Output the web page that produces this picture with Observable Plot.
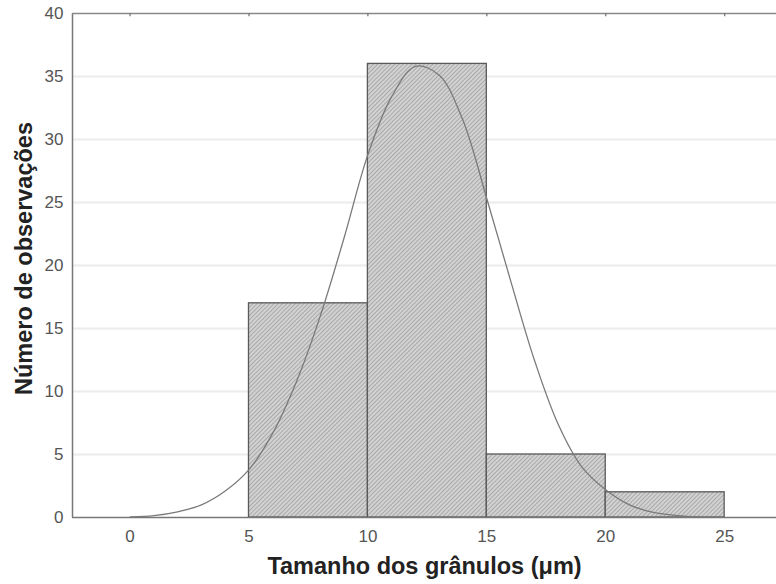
<!DOCTYPE html>
<html>
<head>
<meta charset="utf-8">
<script src="https://cdn.jsdelivr.net/npm/d3@7"></script>
<script src="https://cdn.jsdelivr.net/npm/@observablehq/plot@0.6"></script>
<style>
  html, body { margin: 0; padding: 0; background: #fff; }
  #chart { width: 776px; height: 584px; }
  svg { font-family: "Liberation Sans", Arial, sans-serif; }
</style>
</head>
<body>
<div id="chart"></div>
<script>
// Histogram bins (µm) and counts
const binStart = [5, 10, 15, 20];
const binEnd = [10, 15, 20, 25];
const counts = [17, 36, 5, 2];

// Fitted curve
const curveX = [0, 1, 2, 3, 4, 5, 6, 7, 8, 9, 10, 11, 12, 13, 14, 15, 16, 17, 18, 19, 20, 21, 22, 23, 24];
const curveY = [0.05, 0.15, 0.45, 1.0, 2.1, 3.8, 6.7, 10.8, 16.0, 22.2, 28.8, 33.4, 35.8, 35.1, 31.5, 25.3, 18.8, 12.5, 7.4, 4.0, 2.2, 1.0, 0.4, 0.15, 0.05];

// Ticks
const xTicks = [0, 5, 10, 15, 20, 25];
const yTicks = [0, 5, 10, 15, 20, 25, 30, 35, 40];

const xLabel = "Tamanho dos grânulos (μm)";
const yLabel = "Número de observações";

const bars = binStart.map((s, i) => ({x1: s, x2: binEnd[i], y: counts[i]}));
const curve = curveX.map((x, i) => ({x, y: curveY[i]}));

const xMin = -2.42, xMax = 27.18;

const plot = Plot.plot({
  width: 776,
  height: 584,
  marginLeft: 72,
  marginRight: 0,
  marginTop: 13,
  marginBottom: 67,
  style: {fontFamily: "'Liberation Sans', Arial, sans-serif", background: "#fff"},
  x: {domain: [xMin, xMax]},
  y: {domain: [0, 40]},
  marks: [
    Plot.ruleY(yTicks.filter(d => d > 0 && d < 40), {stroke: "#ebebeb", strokeWidth: 2}),
    Plot.rectY(bars, {x1: "x1", x2: "x2", y: "y", fill: "url(#hatch)", stroke: "#5a5a5a", strokeWidth: 1.3}),
    Plot.line(curve, {x: "x", y: "y", curve: "catmull-rom", stroke: "#7a7a7a", strokeWidth: 1.3}),
    Plot.ruleX([xMin], {stroke: "#777", strokeWidth: 1.5}),
    Plot.ruleY([0], {stroke: "#777", strokeWidth: 1.5}),
    Plot.ruleY([40], {stroke: "#888", strokeWidth: 1.5}),
    Plot.ruleX(xTicks, {y1: 40, y2: 39.75, stroke: "#777", strokeWidth: 1.3}),
    Plot.axisY({ticks: yTicks, tickSize: 0, tickPadding: 9, fontSize: 17, fill: "#555", label: null}),
    Plot.axisX({ticks: xTicks, tickSize: 0, tickPadding: 12, fontSize: 17, fill: "#555", label: null}),
    Plot.text([xLabel], {frameAnchor: "bottom", dy: 56, fontSize: 23.5, fontWeight: "bold", fill: "#222", text: d => d}),
    Plot.text([yLabel], {frameAnchor: "left", textAnchor: "middle", dx: -48, dy: -7, rotate: -90, fontSize: 23.5, fontWeight: "bold", fill: "#222", text: d => d})
  ]
});

// hatch pattern definition for the bar fill
const ns = "http://www.w3.org/2000/svg";
const defs = document.createElementNS(ns, "defs");
const pat = document.createElementNS(ns, "pattern");
pat.setAttribute("id", "hatch");
pat.setAttribute("patternUnits", "userSpaceOnUse");
pat.setAttribute("width", "3");
pat.setAttribute("height", "3");
pat.setAttribute("patternTransform", "rotate(45)");
const bg = document.createElementNS(ns, "rect");
bg.setAttribute("width", "3");
bg.setAttribute("height", "3");
bg.setAttribute("fill", "#d2d2d2");
const ln = document.createElementNS(ns, "line");
ln.setAttribute("x1", "0"); ln.setAttribute("y1", "0");
ln.setAttribute("x2", "0"); ln.setAttribute("y2", "3");
ln.setAttribute("stroke", "#8e8e8e");
ln.setAttribute("stroke-width", "1.2");
pat.appendChild(bg);
pat.appendChild(ln);
defs.appendChild(pat);
plot.insertBefore(defs, plot.firstChild);

document.getElementById("chart").appendChild(plot);
</script>
</body>
</html>
